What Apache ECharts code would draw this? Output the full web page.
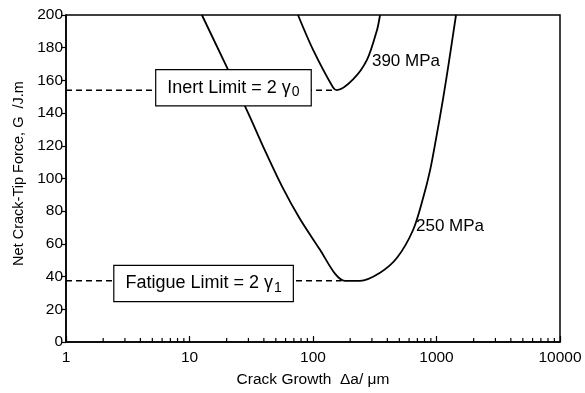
<!DOCTYPE html>
<html><head><meta charset="utf-8">
<script src="https://cdn.jsdelivr.net/npm/echarts@6/dist/echarts.min.js"></script>
<style>html,body{margin:0;padding:0;background:#fff}#c{width:585px;height:393px}</style>
</head><body><div id="c"></div>
<script>
// ---- data ----
const xRange = [1, 10000];
const yRange = [0, 200];
const yStep = 20;

const curve390X = [75.6, 100, 145, 156, 211, 274, 330, 349];
const curve390Y = [200, 178.8, 155.8, 154, 160.6, 172.7, 190.9, 200];

const curve250X = [12.6, 20.1, 30.9, 40.9, 56.1, 78.5, 114, 150.6, 181.6, 240, 349, 479, 646, 778, 886, 991, 1129, 1262, 1439];
const curve250Y = [200, 167.9, 137.6, 117, 95.2, 75.2, 56.4, 41.8, 37.4, 37.4, 42.4, 51.5, 68.5, 87.9, 104.8, 124.2, 148.5, 171.5, 200];

const inertLimitX = [1, 151];
const inertLimitY = [154, 154];
const fatigueLimitX = [1, 170];
const fatigueLimitY = [37.4, 37.4];

const minorTicks = [2,3,4,5,6,7,8,9, 20,30,40,50,60,70,80,90, 200,300,400,500,600,700,800,900, 2000,3000,4000,5000,6000,7000,8000,9000];

const curveLabels = ['390 MPa', '250 MPa'];
const curveLabelAt = [[300, 171.5], [682, 70.9]];
const boxTexts = ['{t|Inert Limit = 2 }{g|γ}{s|0}', '{t|Fatigue Limit = 2 }{g|γ}{s|1}'];
const boxAt = [[22.7, 155.5], [13.0, 35.8]];

const xTitle = 'Crack Growth  Δa/ μm';
const yTitle = 'Net Crack-Tip Force, G  /J.m';

// ---- chart ----
const FONT = '"Liberation Sans", Arial, Helvetica, sans-serif';
const zip = (a, b) => a.map((v, i) => [v, b[i]]);
const chart = echarts.init(document.getElementById('c'), null, {renderer: 'canvas'});

const richBox = {
  t: {fontSize: 18, fontFamily: FONT, fill: '#000'},
  g: {fontSize: 18, fontFamily: FONT, fill: '#000'},
  s: {fontSize: 14, fontFamily: FONT, fill: '#000', padding: [9, 0, 0, 1]}
};

chart.setOption({
  animation: false,
  backgroundColor: '#fff',
  textStyle: {fontFamily: FONT, color: '#000'},
  grid: {left: 66, right: 25, top: 15, bottom: 48, show: true, borderColor: '#000', borderWidth: 1.5},
  xAxis: {
    type: 'log', logBase: 10, min: xRange[0], max: xRange[1],
    axisLine: {lineStyle: {color: '#000', width: 1.5}},
    axisTick: {inside: true, length: 6, lineStyle: {color: '#000', width: 1.2}},
    minorTick: {show: false},
    splitLine: {show: false},
    axisLabel: {color: '#000', fontSize: 15.5, fontFamily: FONT, margin: 8,
                formatter: v => String(Math.round(v))},
    name: xTitle, nameLocation: 'middle', nameGap: 30,
    nameTextStyle: {color: '#000', fontSize: 15.5, fontFamily: FONT}
  },
  yAxis: {
    type: 'value', min: yRange[0], max: yRange[1], interval: yStep,
    axisLine: {show: true, lineStyle: {color: '#000', width: 1.5}},
    axisTick: {show: true, inside: false, length: 5, lineStyle: {color: '#000', width: 1.2}},
    splitLine: {show: false},
    axisLabel: {color: '#000', fontSize: 15.5, fontFamily: FONT, margin: 3},
    name: yTitle, nameLocation: 'middle', nameGap: 40, nameRotate: 90,
    nameTextStyle: {color: '#000', fontSize: 14.5, fontFamily: FONT, padding: [0, 0, 0, 10]}
  },
  series: [
    {
      type: 'line', data: zip(curve390X, curve390Y), smooth: 0.3, showSymbol: false, symbol: 'none',
      lineStyle: {color: '#000', width: 1.8}, z: 2
    },
    {
      type: 'line', data: zip(curve250X, curve250Y), smooth: 0.3, showSymbol: false, symbol: 'none',
      lineStyle: {color: '#000', width: 1.8}, z: 2
    },
    {
      type: 'line', data: zip(inertLimitX, inertLimitY), showSymbol: false, symbol: 'none',
      lineStyle: {color: '#000', width: 1.5, type: [6, 4]}, z: 2
    },
    {
      type: 'line', data: zip(fatigueLimitX, fatigueLimitY), showSymbol: false, symbol: 'none',
      lineStyle: {color: '#000', width: 1.5, type: [6, 4]}, z: 2
    },
    {
      type: 'custom', z: 3, silent: true,
      data: minorTicks.map(v => [v, yRange[0]]),
      renderItem: (params, api) => {
        const p = api.coord([api.value(0), api.value(1)]);
        return {type: 'line', shape: {x1: p[0], y1: p[1], x2: p[0], y2: p[1] - 4},
                style: {stroke: '#000', lineWidth: 1.2}};
      }
    },
    {
      type: 'custom', z: 10, silent: true,
      data: curveLabelAt,
      renderItem: (params, api) => {
        const p = api.coord([api.value(0), api.value(1)]);
        return {
          type: 'text', z2: 100,
          style: {x: p[0], y: p[1], text: curveLabels[params.dataIndex],
                  align: 'left', verticalAlign: 'middle', fill: '#000',
                  fontSize: 17, fontFamily: FONT}
        };
      }
    },
    {
      type: 'custom', z: 20, silent: true,
      data: boxAt,
      renderItem: (params, api) => {
        const p = api.coord([api.value(0), api.value(1)]);
        return {
          type: 'text', z2: 100,
          style: {
            x: p[0], y: p[1], text: boxTexts[params.dataIndex], rich: richBox,
            align: 'center', verticalAlign: 'middle', fill: '#000',
            fontSize: 18, fontFamily: FONT,
            backgroundColor: '#fff', borderColor: '#000', borderWidth: 1.2,
            padding: [6, 11, 6, 11]
          }
        };
      }
    }
  ]
});
</script></body></html>
